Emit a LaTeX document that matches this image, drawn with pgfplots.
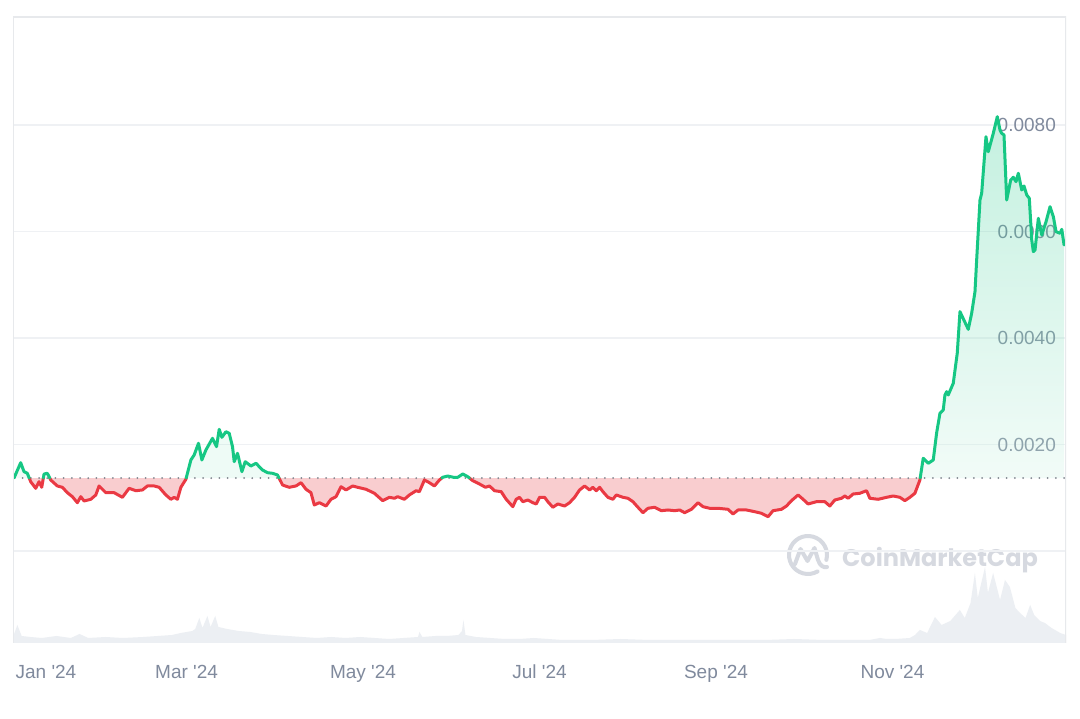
\documentclass[border=0pt]{standalone}
\usepackage{fontspec}
\setmainfont{Liberation Sans}
\newfontfamily\wmfont{Poppins}
\usepackage{pgfplots}
\pgfplotsset{compat=1.18}
\usepackage{pgfplotstable}
\definecolor{cmcgreen}{HTML}{16C784}
\definecolor{cmcred}{HTML}{EA3943}
\definecolor{ticklab}{HTML}{808A9D}
\definecolor{gridc}{HTML}{EFF1F4}
\definecolor{framec}{HTML}{E7E9EC}
\definecolor{volc}{HTML}{ECEFF3}
\definecolor{wmc}{HTML}{D6D9E0}
\definecolor{dotc}{HTML}{80858E}

% price segments: day of 2024, price (USD); split where the price crosses the start price
\pgfplotstableread{
d p
0.35 0.001370
2.66 0.001658
3.81 0.001489
4.95 0.001459
5.61 0.001370
}\gone
\pgfplotstableread{
d p
5.61 0.001370
6.12 0.001301
7.85 0.001177
9.00 0.001301
9.93 0.001196
10.49 0.001370
}\rone
\pgfplotstableread{
d p
10.49 0.001370
10.73 0.001446
11.87 0.001459
12.70 0.001370
}\gtwo
\pgfplotstableread{
d p
12.70 0.001370
13.04 0.001333
15.33 0.001221
17.06 0.001196
18.79 0.001095
20.52 0.001020
22.25 0.000907
23.43 0.001020
24.57 0.000939
26.89 0.000971
28.62 0.001052
29.76 0.001221
32.08 0.001095
34.95 0.001095
37.82 0.001008
40.14 0.001177
42.46 0.001132
44.74 0.001146
46.47 0.001221
48.79 0.001221
50.52 0.001196
52.84 0.001052
54.57 0.000971
55.71 0.001008
56.85 0.000971
58.03 0.001196
59.76 0.001346
59.87 0.001370
}\rtwo
\pgfplotstableread{
d p
59.87 0.001370
61.49 0.001709
62.63 0.001803
64.12 0.002023
65.29 0.001709
66.68 0.001897
68.96 0.002116
70.35 0.001959
71.28 0.002285
72.21 0.002135
73.60 0.002240
74.74 0.002210
75.88 0.001959
76.47 0.001677
77.61 0.001835
79.13 0.001489
80.28 0.001677
82.25 0.001596
83.98 0.001647
86.26 0.001521
87.99 0.001470
89.72 0.001459
91.45 0.001427
91.97 0.001370
}\gthree
\pgfplotstableread{
d p
91.97 0.001370
93.18 0.001239
95.50 0.001196
97.82 0.001221
99.55 0.001283
101.28 0.001159
103.00 0.001095
104.15 0.000864
105.88 0.000907
108.20 0.000845
109.93 0.000971
111.66 0.001020
113.39 0.001207
115.12 0.001146
117.40 0.001221
119.13 0.001196
122.04 0.001159
124.91 0.001084
127.79 0.000945
130.10 0.001008
131.83 0.000990
132.98 0.001020
135.29 0.000971
137.02 0.001052
139.34 0.001132
140.48 0.001114
142.21 0.001333
143.94 0.001283
145.67 0.001221
147.40 0.001333
148.24 0.001370
}\rthree
\pgfplotstableread{
d p
148.24 0.001370
148.55 0.001384
150.28 0.001408
152.60 0.001380
153.74 0.001384
155.47 0.001446
157.20 0.001395
157.77 0.001370
}\gfour
\pgfplotstableread{
d p
157.77 0.001370
158.93 0.001320
161.25 0.001258
163.32 0.001196
164.71 0.001221
166.44 0.001132
168.75 0.001114
170.48 0.000971
172.77 0.000832
173.94 0.000971
175.09 0.001008
176.23 0.000926
177.96 0.000958
179.69 0.000907
180.87 0.000883
182.01 0.001008
183.74 0.001008
184.88 0.000926
186.61 0.000821
188.34 0.000883
190.66 0.000845
192.39 0.000907
194.12 0.001008
195.85 0.001146
197.58 0.001221
199.31 0.001146
200.45 0.001196
201.63 0.001132
202.77 0.001196
203.91 0.001114
205.64 0.001008
207.37 0.000971
208.55 0.001052
210.83 0.001008
212.56 0.000990
214.29 0.000926
216.02 0.000821
217.75 0.000719
219.48 0.000802
221.80 0.000821
224.12 0.000757
226.40 0.000770
228.72 0.000757
230.45 0.000770
232.18 0.000719
234.50 0.000783
236.78 0.000907
238.51 0.000832
240.83 0.000802
243.70 0.000802
247.16 0.000783
248.89 0.000695
250.62 0.000770
253.53 0.000770
256.40 0.000738
258.72 0.000708
261.00 0.000644
262.73 0.000757
265.64 0.000783
267.37 0.000845
269.10 0.000945
271.38 0.001052
273.11 0.000971
274.84 0.000883
277.75 0.000926
280.62 0.000926
282.35 0.000845
284.08 0.000958
286.40 0.000990
287.54 0.001033
288.68 0.000990
290.42 0.001070
292.73 0.001084
295.05 0.001132
296.19 0.000990
299.06 0.000971
301.97 0.001008
304.26 0.001033
306.57 0.001008
308.30 0.000945
310.03 0.001008
311.76 0.001084
313.49 0.001333
313.59 0.001370
}\rfour
\pgfplotstableread{
d p
313.59 0.001370
314.64 0.001741
316.37 0.001647
318.10 0.001709
319.27 0.002216
320.42 0.002586
321.56 0.002648
322.15 0.002930
322.73 0.002992
323.29 0.002930
325.02 0.003149
326.40 0.003713
327.34 0.004494
330.21 0.004163
331.38 0.004464
332.53 0.004869
333.11 0.005465
334.26 0.006591
334.84 0.006717
336.33 0.007780
337.13 0.007498
338.86 0.007844
340.24 0.008156
341.18 0.007906
341.76 0.007844
342.56 0.007812
343.49 0.006591
344.88 0.006967
345.78 0.007018
346.71 0.006935
347.51 0.007093
348.69 0.006779
349.48 0.006854
350.42 0.006685
351.31 0.006623
352.15 0.005840
352.70 0.005621
353.29 0.005652
354.43 0.006248
355.61 0.005934
357.09 0.006184
358.48 0.006466
359.62 0.006278
360.55 0.005996
361.94 0.005966
362.53 0.006041
363.32 0.005746
}\gfive
% volume (relative units)
\pgfplotstableread{
d v
0 6
1.5 18
3 7
6 6
10 5
15 7
20 5
23 9
26 5
32 6
38 5
45 6
50 7
55 8
58 10
62 12
63 14
64.4 25
65.5 15
67.2 27
68.3 16
69.9 27
71 16
74 14
78 12
82 11
86 9
90 8
95 7
100 6
105 5
110 6
115 5
120 6
125 5
130 4
135 5
140 6
140.5 11
141.5 6
146 7
150 7
154 8
155.2 12
155.7 23
156.4 8
160 6
165 5
170 4
175 4
180 5
185 4
190 3
200 3
210 4
220 3
230 3
240 3
250 3
260 3
270 4
280 3
290 3
296 3
299.7 5
302 4
305 4
310 5
311.8 8
313.5 13
316 10
318.7 26
321 18
324 22
327.3 33
329 25
331 40
332.5 70
333.5 45
336 76
337 50
338.8 70
341.2 43
342.9 63
344.6 56
346.5 35
348.1 30
350 25
351.6 38
353 28
355 22
356.7 20
359 15
362 10
364 8
}\vol

\begin{document}
\begin{tikzpicture}[x=1pt,y=1pt]
\fill[white] (0,0) rectangle (1080,719);

% volume
\begin{axis}[at={(13pt,76pt)}, anchor=south west, width=1053pt, height=626pt,
  scale only axis, xmin=0, xmax=364, ymin=0, ymax=626, axis lines=none]
\addplot[draw=none, fill=volc] table[x=d, y=v] {\vol} \closedcycle;
\end{axis}

% watermark
\draw[wmc, line width=4pt, line cap=round] (808,164) ++(-15:19) arc[start angle=-15, end angle=300, radius=19];
\draw[wmc, line width=4pt, line cap=round, line join=round]
  (795,155) -- (800.5,170) -- (807.5,158) -- (814.5,171) -- (818,159) .. controls (820,153) and (824,151) .. (827,152);
\node[anchor=base west, inner sep=0pt, text=wmc, font=\wmfont\bfseries\fontsize{24}{28}\selectfont] at (842,152) {CoinMarketCap};

% price
\begin{axis}[at={(13pt,76pt)}, anchor=south west, width=1053pt, height=626pt,
  scale only axis,
  xmin=0, xmax=364, ymin=-0.0017277, ymax=0.010028,
  axis line style={draw=none},
  major tick length=0pt, tick style={draw=none},
  ytick={0,0.002,0.004,0.006,0.008},
  yticklabels={,0.0020,0.0040,0.0060,0.0080},
  yticklabel pos=right,
  yticklabel style={anchor=east, inner sep=0pt, xshift=-10pt},
  ymajorgrids, grid style={gridc, line width=1.2pt},
  xtick={11.4,60,121,182,243,304},
  xticklabels={Jan \textquotesingle 24,Mar \textquotesingle 24,May \textquotesingle 24,Jul \textquotesingle 24,Sep \textquotesingle 24,Nov \textquotesingle 24},
  xticklabel style={anchor=base, inner sep=0pt, yshift=-36pt},
  ticklabel style={font=\fontsize{19}{22}\selectfont, text=ticklab},
  scaled y ticks=false,
]
% fills (translucent, so grid and labels show through)
\addplot[draw=none, fill=cmcred, fill opacity=0.25] table[x=d,y=p] {\rone} -- cycle;
\addplot[draw=none, fill=cmcred, fill opacity=0.25] table[x=d,y=p] {\rtwo} -- cycle;
\addplot[draw=none, fill=cmcred, fill opacity=0.25] table[x=d,y=p] {\rthree} -- cycle;
\addplot[draw=none, fill=cmcred, fill opacity=0.25] table[x=d,y=p] {\rfour} -- cycle;
\addplot[draw=none, fill=cmcgreen, fill opacity=0.06] table[x=d,y=p] {\gone} -- cycle;
\addplot[draw=none, fill=cmcgreen, fill opacity=0.06] table[x=d,y=p] {\gtwo} -- cycle;
\addplot[draw=none, fill=cmcgreen, fill opacity=0.07] table[x=d,y=p] {\gthree} -- cycle;
\addplot[draw=none, fill=cmcgreen, fill opacity=0.05] table[x=d,y=p] {\gfour} -- cycle;
\addplot[draw=none, top color=cmcgreen, bottom color=cmcgreen!22, fill opacity=0.25] table[x=d,y=p] {\gfive} -- (axis cs:363.32,0.00137) -- cycle;
% start price reference
\addplot[dotc, line width=2pt, line cap=round, dash pattern=on 0pt off 8.2pt] coordinates {(0.5,0.00137) (364,0.00137)};
% lines
\addplot[cmcred, line width=3pt, line join=round, line cap=round] table[x=d,y=p] {\rone};
\addplot[cmcred, line width=3pt, line join=round, line cap=round] table[x=d,y=p] {\rtwo};
\addplot[cmcred, line width=3pt, line join=round, line cap=round] table[x=d,y=p] {\rthree};
\addplot[cmcred, line width=3pt, line join=round, line cap=round] table[x=d,y=p] {\rfour};
\addplot[cmcgreen, line width=3pt, line join=round, line cap=round] table[x=d,y=p] {\gone};
\addplot[cmcgreen, line width=3pt, line join=round, line cap=round] table[x=d,y=p] {\gtwo};
\addplot[cmcgreen, line width=3pt, line join=round, line cap=round] table[x=d,y=p] {\gthree};
\addplot[cmcgreen, line width=3pt, line join=round, line cap=round] table[x=d,y=p] {\gfour};
\addplot[cmcgreen, line width=3pt, line join=round, line cap=round] table[x=d,y=p] {\gfive};
% frame
\draw[framec, line width=1.5pt] (rel axis cs:0,0) -- (rel axis cs:0,1) -- (rel axis cs:1,1) -- (rel axis cs:1,0);
\end{axis}
\end{tikzpicture}
\end{document}
